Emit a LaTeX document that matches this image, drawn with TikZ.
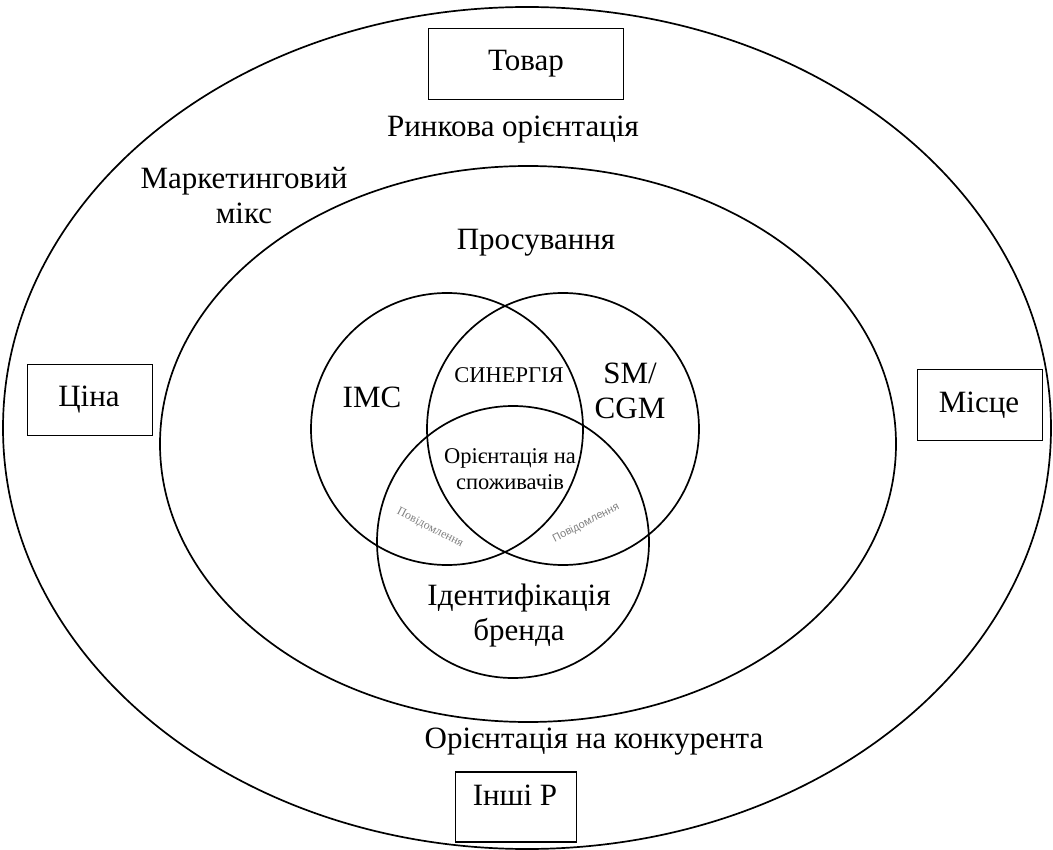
\documentclass[tikz,border=0pt]{standalone}
\usepackage{fontspec}
\setmainfont{Liberation Serif}
\newfontfamily\labelsans{Liberation Sans}
\tikzset{
	ring/.style={line width=1.7pt},
	pbox/.style={draw, line width=1.8pt, inner sep=0pt},
	bigtext/.style={font=\fontsize{31}{35}\selectfont, align=center},
	midtext/.style={font=\fontsize{22.5}{26}\selectfont, align=center},
	msgtext/.style={font=\fontsize{12}{14}\selectfont, text=black!50, inner sep=0pt}
}
\begin{document}
\begin{tikzpicture}[x=1pt,y=-1pt]
	\useasboundingbox (0,0) rectangle (1053,850);
	%ellipses
		\draw[ring] (527,428) ellipse [x radius=524pt, y radius=421pt];
		\draw[ring] (528,444) ellipse [x radius=368pt, y radius=278pt];
	%venn circles
		\draw[ring] (447,429) circle [radius=136pt];
		\draw[ring] (563,429) circle [radius=136pt];
		\draw[ring] (513,542) circle [radius=136pt];
	%the four P
		\node[pbox, minimum width=195pt, minimum height=71pt] (tovar) at (526,64) {};
		\node[bigtext] (tovarT) at (526,64) {Товар};
		\node[pbox, minimum width=125pt, minimum height=71pt] (tsina) at (90,400) {};
		\node[bigtext] (tsinaT) at (89,400) {Ціна};
		\node[pbox, minimum width=125pt, minimum height=71pt] (mistse) at (980,405) {};
		\node[bigtext] (mistseT) at (979,405) {Місце};
		\node[pbox, minimum width=121pt, minimum height=70pt] (inshi) at (516,807) {};
		\node[bigtext] (inshiT) at (515,795) {Інші Р};
	%rings labels
		\node[bigtext] (market) at (513,130) {Ринкова орієнтація};
		\node[bigtext] (mix) at (244,196) {Маркетинговий\\мікс};
		\node[bigtext] (prosuv) at (536,243) {Просування};
		\node[bigtext] (konkur) at (594,742) {Орієнтація на конкурента};
	%venn labels
		\node[bigtext] (imc) at (372,397) {IMC};
		\node[bigtext] (smcgm) at (630,391) {SM/\\CGM};
		\node[midtext] (synerg) at (509,375) {СИНЕРГІЯ};
		\node[midtext] (spozh) at (510,469) {Орієнтація на\\споживачів};
		\node[bigtext] (brand) at (519,616) {Ідентифікація\\бренда};
		\node[msgtext, rotate=-27] (msgL) at (430,528) {Повідомлення};
		\node[msgtext, font=\labelsans\fontsize{11}{13}\selectfont, rotate=27] (msgR) at (586,523) {Повідомлення};
\end{tikzpicture}
\end{document}
